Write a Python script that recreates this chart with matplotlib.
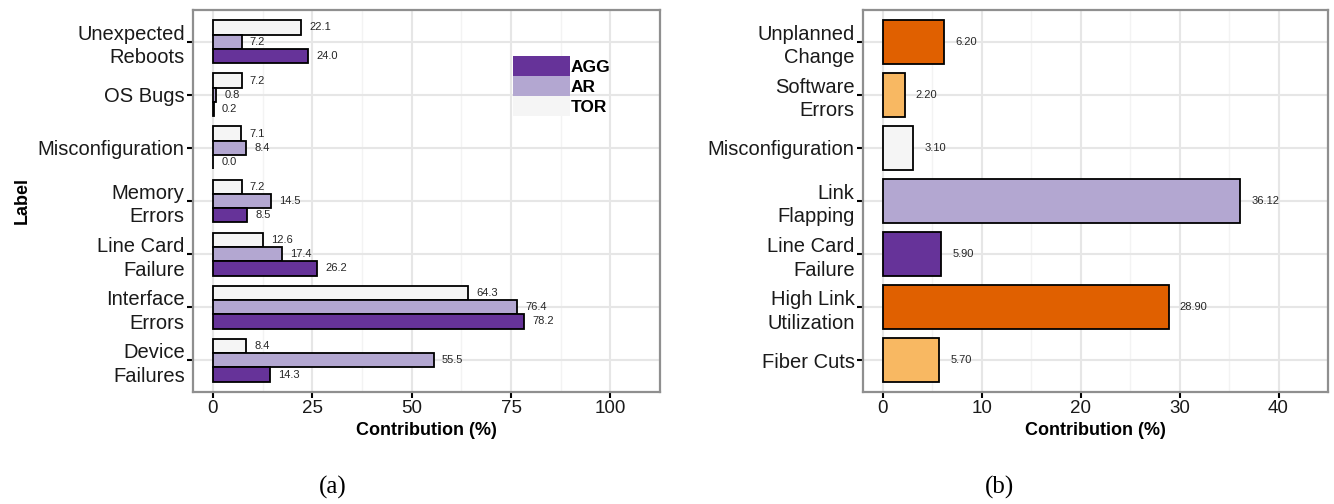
import numpy as np
import matplotlib
matplotlib.use("Agg")
import matplotlib.pyplot as plt
from matplotlib.patches import Patch

plt.rcParams['font.family'] = ['Liberation Sans', 'DejaVu Sans']

# (a) failure root causes per device type
causes_a = ["Unexpected\nReboots", "OS Bugs", "Misconfiguration", "Memory\nErrors",
            "Line Card\nFailure", "Interface\nErrors", "Device\nFailures"]
tor = [22.1, 7.2, 7.1, 7.2, 12.6, 64.3, 8.4]
ar = [7.2, 0.8, 8.4, 14.5, 17.4, 76.4, 55.5]
agg = [24.0, 0.2, 0.0, 8.5, 26.2, 78.2, 14.3]

# (b) link failure root causes
causes_b = ["Unplanned\nChange", "Software\nErrors", "Misconfiguration", "Link\nFlapping",
            "Line Card\nFailure", "High Link\nUtilization", "Fiber Cuts"]
share_b = [6.20, 2.20, 3.10, 36.12, 5.90, 28.90, 5.70]

c_agg, c_ar, c_tor = '#663399', '#b3a7d1', '#f5f5f5'
colors_b = ['#e06000', '#f8b862', '#f5f5f5', '#b3a7d1', '#663399', '#e06000', '#f8b862']

fig = plt.figure(figsize=(13.34, 5.04), dpi=100)
ax1 = fig.add_axes([0.1447, 0.2222, 0.3501, 0.758])
ax2 = fig.add_axes([0.6469, 0.2222, 0.3486, 0.758])


def style(ax, xmax, step):
    ax.set_axisbelow(True)
    ax.set_xticks(np.arange(0, xmax + 1, step))
    ax.set_xticks(np.arange(step / 2, xmax + step, step), minor=True)
    ax.grid(True, which='major', color='#e6e6e6', lw=1.5)
    ax.grid(True, which='minor', axis='x', color='#f3f3f3', lw=1.0)
    ax.tick_params(which='minor', length=0)
    ax.tick_params(which='major', length=4, width=1.5, color='black',
                   labelsize=13.5, pad=2, labelcolor='#1a1a1a')
    ax.tick_params(axis='y', labelsize=14.5)
    for s in ax.spines.values():
        s.set_color('#8f8f8f')
        s.set_linewidth(1.6)
    ax.set_xlabel("Contribution (%)", fontsize=13, fontweight='bold', labelpad=3)


y = np.arange(7, 0, -1)
h = 0.27
bars_tor = ax1.barh(y + h, tor, height=h, color=c_tor, edgecolor='black', lw=1.3)
bars_ar = ax1.barh(y, ar, height=h, color=c_ar, edgecolor='black', lw=1.3)
bars_agg = ax1.barh(y - h, agg, height=h, color=c_agg, edgecolor='black', lw=1.3)
for bars in (bars_tor, bars_ar, bars_agg):
    for b in bars:
        w = b.get_width()
        ax1.annotate(f"{w:.1f}", (w, b.get_y() + b.get_height() / 2),
                     xytext=(6, 0), textcoords='offset points',
                     ha='left', va='center', fontsize=8, color='#262626')
ax1.set_xlim(-5, 105)
ax1.set_ylim(0.4, 7.6)
ax1.set_yticks(y)
ax1.set_yticklabels(causes_a, linespacing=1.3)
style(ax1, 100, 25)
ax1.set_ylabel("Label", fontsize=13, fontweight='bold', labelpad=5)

handles = [Patch(facecolor=c, edgecolor='none') for c in (c_agg, c_ar, c_tor)]
leg = ax1.legend(handles, ["AGG", "AR", "TOR"], loc='upper left',
                 bbox_to_anchor=(0.666, 0.902), frameon=False, borderpad=0,
                 handlelength=3.3, handleheight=1.4, labelspacing=0,
                 handletextpad=0.05, prop={'weight': 'bold', 'size': 12.5})

bars_b = ax2.barh(y, share_b, height=0.82, color=colors_b, edgecolor='black', lw=1.3)
for b in bars_b:
    w = b.get_width()
    ax2.annotate(f"{w:.2f}", (w, b.get_y() + b.get_height() / 2),
                 xytext=(8, 0), textcoords='offset points',
                 ha='left', va='center', fontsize=8, color='#262626')
ax2.set_xlim(-2, 42)
ax2.set_ylim(0.4, 7.6)
ax2.set_yticks(y)
ax2.set_yticklabels(causes_b, linespacing=1.3)
style(ax2, 40, 10)

fig.text(0.2496, 0.033, "(a)", ha='center', va='center', fontsize=18, family='Liberation Serif')
fig.text(0.7496, 0.033, "(b)", ha='center', va='center', fontsize=18, family='Liberation Serif')

fig.savefig("out.png", dpi=100)
